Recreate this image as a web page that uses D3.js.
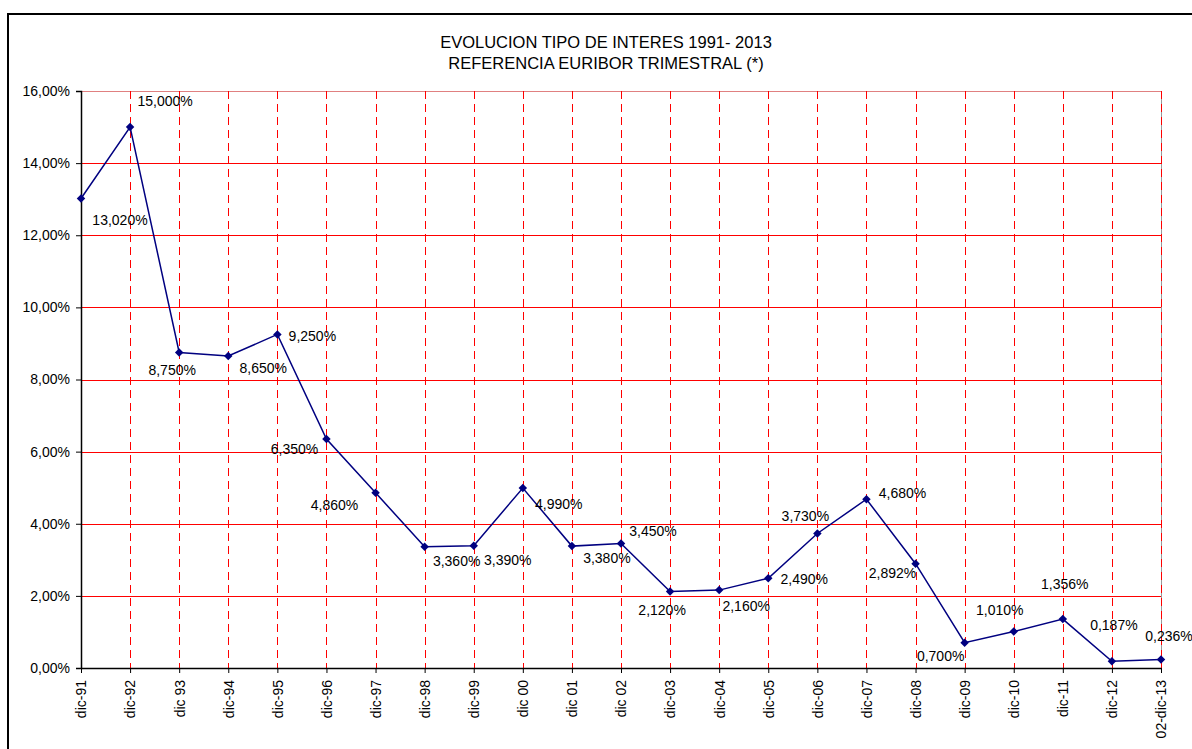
<!DOCTYPE html>
<html>
<head>
<meta charset="utf-8">
<script src="https://cdn.jsdelivr.net/npm/d3@7"></script>
<style>
  html, body { margin: 0; padding: 0; background: #fff; }
  svg { display: block; font-family: "Liberation Sans", Arial, sans-serif; }
</style>
</head>
<body>
<svg id="chart" width="1192" height="749"></svg>
<script>
// Euribor a tres meses, valor de diciembre de cada año
const categories = ["dic-91","dic-92","dic 93","dic-94","dic-95","dic-96","dic-97","dic-98","dic-99","dic 00",
  "dic 01","dic 02","dic-03","dic-04","dic-05","dic-06","dic-07","dic-08","dic-09","dic-10","dic-11","dic-12","02-dic-13"];
const rates = [13.020, 15.000, 8.750, 8.650, 9.250, 6.350, 4.860, 3.360, 3.390, 4.990,
  3.380, 3.450, 2.120, 2.160, 2.490, 3.730, 4.680, 2.892, 0.700, 1.010, 1.356, 0.187, 0.236];
const yTicks = [0, 2, 4, 6, 8, 10, 12, 14, 16];
const titleLines = ["EVOLUCION TIPO DE INTERES 1991- 2013", "REFERENCIA EURIBOR TRIMESTRAL (*)"];

// Desplazamiento de cada etiqueta de valor respecto a su punto (centro del texto)
const labelOffsets = [[39,22],[35,-26],[-7,18],[35,12],[35,2],[-32,10],[-41,12],[32,14],[34,14],[36,16],
  [35,12],[32,-12],[-8,19],[27,16],[36,1],[-12,-17],[36,-6],[-23,9],[-24,13],[-14,-21],[2,-35],[2,-36],[8,-23]];

const fmt = v => v.toFixed(3).replace(".", ",") + "%";
const fmtTick = v => v.toFixed(2).replace(".", ",") + "%";

const svg = d3.select("#chart");
const plot = { left: 81, right: 1161, top: 91, bottom: 668 };

const x = d3.scalePoint().domain(categories).range([plot.left, plot.right]);
const y = d3.scaleLinear().domain([0, 16]).range([plot.bottom, plot.top]);

// Marco exterior del gráfico
svg.append("rect").attr("x", 8).attr("y", 14).attr("width", 1300).attr("height", 900)
  .attr("fill", "none").attr("stroke", "#000").attr("stroke-width", 2);

// Título
svg.append("g").selectAll("text").data(titleLines).join("text")
  .attr("x", 606).attr("y", (d, i) => 42.5 + i * 20.5).attr("dy", "0.35em")
  .attr("text-anchor", "middle").attr("font-size", 16.5).attr("fill", "#000").text(d => d);

// Borde del área de trazado
svg.append("rect").attr("x", plot.left + 0.5).attr("y", plot.top + 0.5)
  .attr("width", plot.right - plot.left).attr("height", plot.bottom - plot.top)
  .attr("fill", "none").attr("stroke", "#999").attr("stroke-width", 1)
  .attr("shape-rendering", "crispEdges");

// Líneas de división horizontales
svg.append("g").attr("shape-rendering", "crispEdges")
  .selectAll("line").data(yTicks.filter(d => d > 0)).join("line")
  .attr("x1", plot.left).attr("x2", plot.right)
  .attr("y1", d => Math.round(y(d)) + 0.5).attr("y2", d => Math.round(y(d)) + 0.5)
  .attr("stroke", d => d === 16 ? "#e08080" : "#ff0000").attr("stroke-width", 1.5);

// Líneas de división verticales discontinuas
svg.append("g").attr("shape-rendering", "crispEdges")
  .selectAll("line").data(categories.slice(1)).join("line")
  .attr("x1", d => Math.round(x(d)) + 0.5).attr("x2", d => Math.round(x(d)) + 0.5)
  .attr("y1", plot.top).attr("y2", plot.bottom)
  .attr("stroke", "#ff0000").attr("stroke-width", 1.5).attr("stroke-dasharray", "8,5");

// Eje Y
const yAxis = svg.append("g").attr("transform", `translate(${plot.left},0)`)
  .call(d3.axisLeft(y).tickValues(yTicks).tickFormat(fmtTick).tickSize(5).tickPadding(6));
yAxis.select(".domain").attr("stroke", "#000").attr("stroke-width", 1.5);
yAxis.selectAll(".tick line").attr("stroke", "#000");
yAxis.selectAll("text").attr("font-size", 14).attr("fill", "#000")
  .attr("font-family", "Liberation Sans, Arial, sans-serif");

// Eje X
const xAxis = svg.append("g").attr("transform", `translate(0,${plot.bottom})`)
  .call(d3.axisBottom(x).tickSize(5).tickSizeOuter(0));
xAxis.select(".domain").attr("stroke", "#000").attr("stroke-width", 1.5);
xAxis.selectAll(".tick line").attr("stroke", "#000");
xAxis.selectAll("text")
  .attr("font-size", 14).attr("fill", "#000").attr("font-family", "Liberation Sans, Arial, sans-serif")
  .attr("transform", "rotate(-90)")
  .attr("text-anchor", "end").attr("x", -12).attr("y", 0).attr("dy", "0.35em");

// Serie
const line = d3.line().x((d, i) => x(categories[i])).y(d => y(d));
svg.append("path").datum(rates).attr("d", line)
  .attr("fill", "none").attr("stroke", "#000080").attr("stroke-width", 1.5);

svg.append("g").selectAll("path").data(rates).join("path")
  .attr("transform", (d, i) => `translate(${x(categories[i])},${y(d)}) rotate(45)`)
  .attr("d", d3.symbol().type(d3.symbolSquare).size(36))
  .attr("fill", "#000080");

// Etiquetas de valor
svg.append("g").selectAll("text").data(rates).join("text")
  .attr("x", (d, i) => x(categories[i]) + labelOffsets[i][0])
  .attr("y", (d, i) => y(d) + labelOffsets[i][1])
  .attr("dy", "0.35em").attr("text-anchor", "middle")
  .attr("font-size", 14).attr("fill", "#000").text(fmt);
</script>
</body>
</html>
